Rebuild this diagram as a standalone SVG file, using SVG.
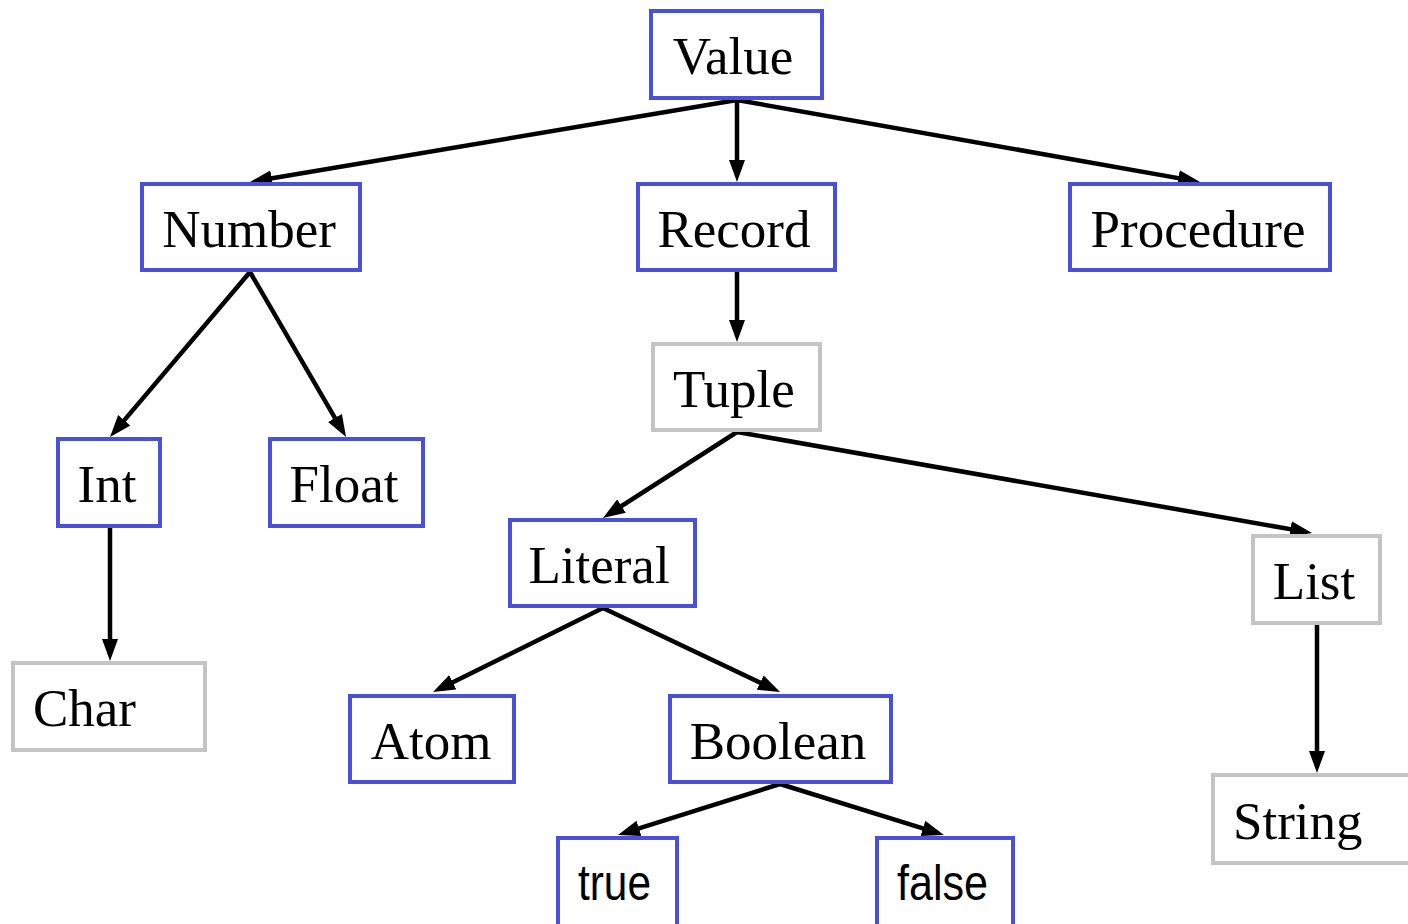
<svg xmlns="http://www.w3.org/2000/svg" width="1408" height="924" viewBox="0 0 1408 924">
<style>
.b{fill:#fff;stroke:#4a50d8;stroke-width:4}
.g{fill:#fff;stroke:#c4c4c4;stroke-width:4}
.t{font-family:"Liberation Serif","Times New Roman",serif;font-size:53px;fill:#000;text-anchor:middle}
.l{text-anchor:start}
.s{font-family:"Liberation Sans",Arial,sans-serif;font-size:50px;fill:#000}
.c line{stroke:#000;stroke-width:4.5;fill:none;marker-end:url(#ah)}
</style>
<defs>
<marker id="ah" markerUnits="userSpaceOnUse" markerWidth="22" markerHeight="16" refX="10" refY="8" orient="auto">
<path d="M0,0 L22,8 L0,16 z" fill="#000"/>
</marker>
</defs>
<rect width="1408" height="924" fill="#fff"/>
<g class="c" id="connectors">
<line x1="737" y1="100" x2="261.8" y2="180"/>
<line x1="737" y1="100" x2="737" y2="170"/>
<line x1="737" y1="100" x2="1188.2" y2="179.9"/>
<line x1="250" y1="272" x2="117.8" y2="427.9"/>
<line x1="250" y1="272" x2="340" y2="426.6"/>
<line x1="737" y1="272" x2="737" y2="330"/>
<line x1="737" y1="432" x2="613.1" y2="511.5"/>
<line x1="737" y1="432" x2="1300.2" y2="530.9"/>
<line x1="110" y1="528" x2="110" y2="649"/>
<line x1="603" y1="608" x2="443.8" y2="686.7"/>
<line x1="603" y1="608" x2="769.2" y2="686.9"/>
<line x1="1317" y1="625" x2="1317" y2="761"/>
<line x1="780" y1="784" x2="629.4" y2="831.4"/>
<line x1="780" y1="784" x2="932.5" y2="831.4"/>
</g>
<g id="value"><rect class="b" x="651" y="11" width="171" height="87"/><text class="t" x="733" y="74">Value</text></g>
<g id="number"><rect class="b" x="142" y="184" width="218" height="86"/><text class="t" x="249" y="247">Number</text></g>
<g id="record"><rect class="b" x="638" y="184" width="197" height="86"/><text class="t" x="734" y="247">Record</text></g>
<g id="procedure"><rect class="b" x="1070" y="184" width="260" height="86"/><text class="t" x="1198" y="247">Procedure</text></g>
<g id="tuple"><rect class="g" x="653" y="344" width="167" height="86"/><text class="t" x="734" y="407">Tuple</text></g>
<g id="int"><rect class="b" x="58" y="439" width="102" height="87"/><text class="t" x="107" y="502">Int</text></g>
<g id="float"><rect class="b" x="270" y="439" width="153" height="87"/><text class="t" x="344" y="502">Float</text></g>
<g id="literal"><rect class="b" x="510" y="520" width="185" height="86"/><text class="t" x="599" y="583">Literal</text></g>
<g id="list"><rect class="g" x="1253" y="536" width="127" height="87"/><text class="t" x="1314" y="599">List</text></g>
<g id="char"><rect class="g" x="13" y="663" width="192" height="87"/><text class="t l" x="33" y="726">Char</text></g>
<g id="atom"><rect class="b" x="350" y="696" width="164" height="86"/><text class="t" x="431" y="759">Atom</text></g>
<g id="boolean"><rect class="b" x="670" y="696" width="221" height="86"/><text class="t" x="778" y="759">Boolean</text></g>
<g id="string"><rect class="g" x="1213" y="775" width="200" height="88"/><text class="t l" x="1233" y="839">String</text></g>
<g id="true"><rect class="b" x="558" y="838" width="119" height="100"/><text class="s" x="578" y="900" textLength="73" lengthAdjust="spacingAndGlyphs">true</text></g>
<g id="false"><rect class="b" x="877" y="838" width="136" height="100"/><text class="s" x="897" y="900" textLength="91" lengthAdjust="spacingAndGlyphs">false</text></g>
</svg>
